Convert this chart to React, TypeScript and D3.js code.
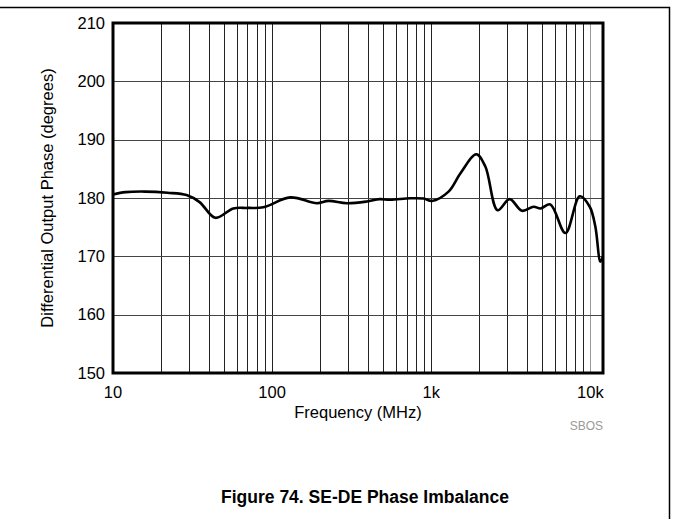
import * as d3 from "d3";
import {useEffect, useRef} from "react";

// frequency in MHz, phase in degrees
const freq = [10, 12, 16, 22, 29, 35, 44, 57, 70, 88, 130, 191, 226, 295, 394, 474, 552, 738, 895, 1009, 1284, 1522, 1919, 2187, 2612, 3107, 3718, 4399, 4860, 5601, 6966, 8574, 9907, 10740, 11560, 12000];
const phase = [180.6, 181.0, 181.1, 180.9, 180.5, 179.3, 176.6, 178.2, 178.3, 178.4, 180.1, 179.1, 179.5, 179.1, 179.4, 179.8, 179.7, 179.95, 179.9, 179.5, 181.1, 184.2, 187.5, 185.4, 177.9, 179.8, 177.8, 178.5, 178.2, 178.9, 174.0, 180.3, 178.5, 175.1, 169.1, 170.0];

const xTickValues = [10, 100, 1000, 10000];
const xTickLabels = ["10", "100", "1k", "10k"];
const yTickValues = [150, 160, 170, 180, 190, 200, 210];

export default function App() {
    const svgRef = useRef(null);
    const width = 673, height = 519;
    const margin = {top: 23, right: 70, bottom: 146, left: 113};

    useEffect(() => {
        if (!svgRef.current) return;
        const svg = d3.select(svgRef.current);
        svg.selectAll("*").remove();

        const x = d3.scaleLog().domain([10, 12000]).range([margin.left, width - margin.right]);
        const y = d3.scaleLinear().domain([150, 210]).range([height - margin.bottom, margin.top]);
        const font = "'Liberation Sans', Arial, sans-serif";

        // outer frame (top and right only)
        svg.append("path")
            .attr("d", `M0,7.5H669.5V${height}`)
            .attr("fill", "none")
            .attr("stroke", "#000")
            .attr("stroke-width", 1.5);

        // minor + major vertical grid
        const vGrid: number[] = [];
        for (let dec = 10; dec <= 10000; dec *= 10) {
            for (let m = 1; m < 10; m++) {
                const v = dec * m;
                if (v > 10 && v < 12000) vGrid.push(v);
            }
        }
        svg.append("g").selectAll("line").data(vGrid).join("line")
            .attr("x1", d => Math.round(x(d)) + 0.5)
            .attr("x2", d => Math.round(x(d)) + 0.5)
            .attr("y1", y(210))
            .attr("y2", y(150))
            .attr("stroke", d => d === 10000 ? "#999" : "#222")
            .attr("stroke-width", 1);

        svg.append("g").selectAll("line").data(yTickValues.slice(1, -1)).join("line")
            .attr("x1", x(10))
            .attr("x2", x(12000))
            .attr("y1", d => Math.round(y(d)) + 0.5)
            .attr("y2", d => Math.round(y(d)) + 0.5)
            .attr("stroke", "#444")
            .attr("stroke-width", 1);

        // curve
        const line = d3.line<number>()
            .x((_, i) => x(freq[i]))
            .y(d => y(d))
            .curve(d3.curveCatmullRom.alpha(0.5));
        svg.append("path")
            .datum(phase)
            .attr("d", line)
            .attr("fill", "none")
            .attr("stroke", "#000")
            .attr("stroke-width", 2.6)
            .attr("stroke-linejoin", "round");

        // plot frame
        svg.append("rect")
            .attr("x", x(10))
            .attr("y", y(210))
            .attr("width", x(12000) - x(10))
            .attr("height", y(150) - y(210))
            .attr("fill", "none")
            .attr("stroke", "#000")
            .attr("stroke-width", 3);

        // tick labels
        svg.append("g").selectAll("text").data(xTickValues).join("text")
            .attr("x", d => x(d))
            .attr("y", 398)
            .attr("text-anchor", "middle")
            .attr("font-family", font)
            .attr("font-size", 16.5)
            .text((_, i) => xTickLabels[i]);

        svg.append("g").selectAll("text").data(yTickValues).join("text")
            .attr("x", 105)
            .attr("y", d => y(d) + 5.5)
            .attr("text-anchor", "end")
            .attr("font-family", font)
            .attr("font-size", 16.5)
            .text(d => d);

        svg.append("text")
            .attr("x", 358)
            .attr("y", 418)
            .attr("text-anchor", "middle")
            .attr("font-family", font)
            .attr("font-size", 16.5)
            .text("Frequency (MHz)");

        svg.append("text")
            .attr("transform", `translate(53,${(y(150) + y(210)) / 2}) rotate(-90)`)
            .attr("text-anchor", "middle")
            .attr("font-family", font)
            .attr("font-size", 16.5)
            .text("Differential Output Phase (degrees)");

        svg.append("text")
            .attr("x", 603)
            .attr("y", 430)
            .attr("text-anchor", "end")
            .attr("font-family", font)
            .attr("font-size", 12)
            .attr("fill", "#999")
            .text("SBOS");

        svg.append("text")
            .attr("x", 365)
            .attr("y", 503)
            .attr("text-anchor", "middle")
            .attr("font-family", font)
            .attr("font-size", 17.5)
            .attr("font-weight", "bold")
            .text("Figure 74. SE-DE Phase Imbalance");
    }, []);

    return (
        <svg ref={svgRef} width={width} height={height}
             style={{position: "absolute", left: 0, top: 0, background: "#fff"}}></svg>
    );
}
